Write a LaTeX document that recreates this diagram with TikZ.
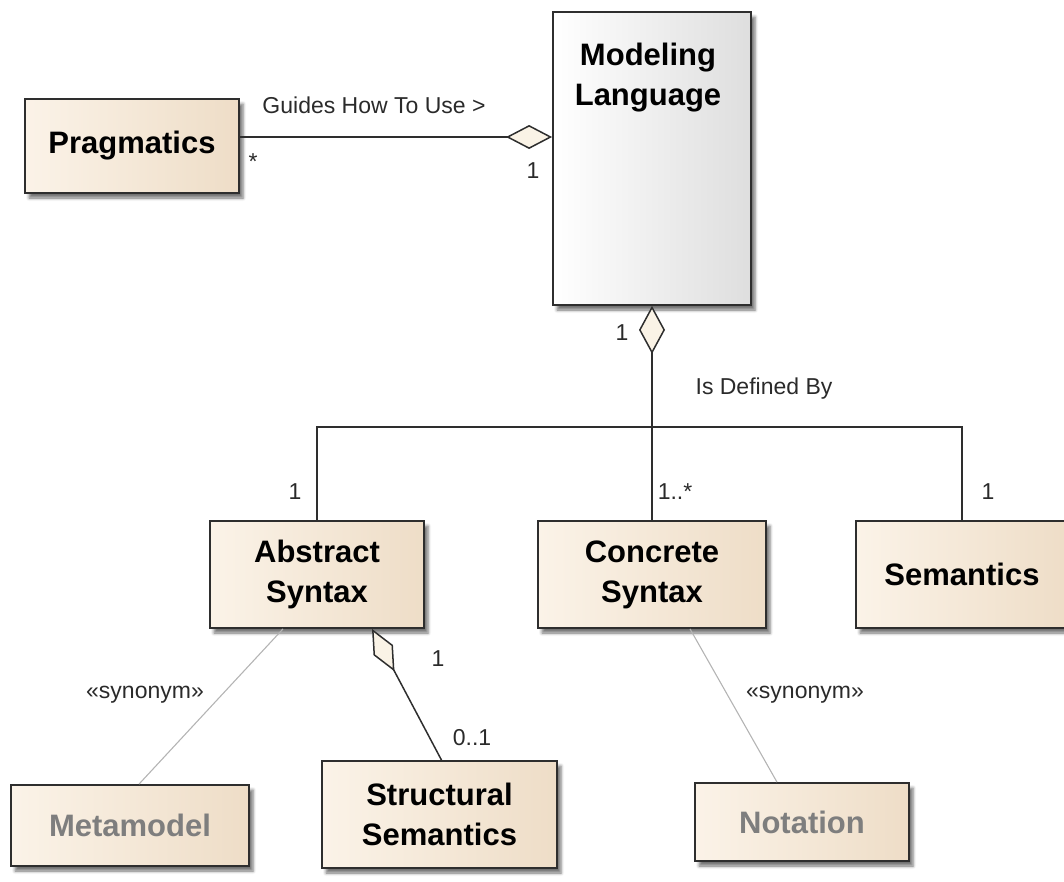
\documentclass[tikz,border=0pt]{standalone}
\usepackage{fontspec}
\setmainfont{Liberation Sans}
\usetikzlibrary{arrows.meta,shadows.blur}

\definecolor{boxL}{HTML}{FBF3E8}
\definecolor{boxR}{HTML}{EEDDC7}
\definecolor{langR}{HTML}{DEDEDE}
\definecolor{edge}{HTML}{2E2E2E}
\definecolor{diafill}{HTML}{FAF3E6}
\definecolor{faint}{HTML}{7E7E7E}
\definecolor{synline}{HTML}{B4B4B4}
\definecolor{roletext}{HTML}{2A2A2A}

\tikzset{
  classbox/.style={draw=edge, line width=1.8pt, left color=boxL, right color=boxR,
    inner sep=0pt, align=center,
    font=\fontsize{31}{40}\selectfont\bfseries,
    blur shadow={shadow xshift=4pt, shadow yshift=-5pt, shadow blur radius=3pt, shadow opacity=55}},
  langbox/.style={classbox, left color=white, right color=langR},
  ghostbox/.style={classbox, text=faint},
  role/.style={font=\fontsize{23}{28}\selectfont, inner sep=0pt, text=roletext},
  assoc/.style={draw=edge, line width=1.5pt},
  synonym/.style={draw=synline, line width=1.1pt},
  aggr/.style={{Diamond[length=46pt, width=24pt, fill=diafill, line width=1.5pt]}-}
}

\begin{document}
\begin{tikzpicture}[x=1pt, y=-1pt]
  \useasboundingbox (0,0) rectangle (1064,881);

  % classes
  \node[classbox, minimum width=214pt, minimum height=94pt] (prag) at (132,146) {Pragmatics};
  \node[langbox, minimum width=198pt, minimum height=293pt] (lang) at (652,158.5) {};
  \node[font=\fontsize{31}{40}\selectfont\bfseries, align=center, inner sep=0pt, anchor=north] (langtitle) at (648,43) {Modeling\\Language};
  \node[classbox, minimum width=214pt, minimum height=107pt] (abs) at (317,574.5) {Abstract\\Syntax};
  \node[classbox, minimum width=228pt, minimum height=107pt] (con) at (652,574.5) {Concrete\\Syntax};
  \node[classbox, minimum width=212pt, minimum height=107pt] (sem) at (962,574.5) {Semantics};
  \node[classbox, minimum width=235pt, minimum height=107pt] (struct) at (439.5,814.5) {Structural\\Semantics};
  \node[ghostbox, minimum width=238pt, minimum height=81pt] (meta) at (130,825.5) {Metamodel};
  \node[ghostbox, minimum width=214pt, minimum height=78pt] (nota) at (802,822) {Notation};

  % Pragmatics guides the modeling language
  \draw[assoc, aggr] ([yshift=9pt]prag.east -| lang.west) -- ([yshift=9pt]prag.east);
  \node[role] (guides) at (374,105) {Guides How To Use >};
  \node[role] (pragmult) at (253,162) {*};
  \node[role] (langmult) at (533,171) {1};

  % the language is defined by three parts
  \coordinate (hub) at (652,427);
  \draw[assoc, {Diamond[length=48pt, width=26pt, fill=diafill, line width=1.5pt]}-] (lang.south) -- (hub);
  \draw[assoc] (abs.north) |- (hub) -| (sem.north);
  \draw[assoc] (hub) -- (con.north);
  \node[role] (defmult) at (622,333) {1};
  \node[role] (defined) at (764,389) {Is Defined By};
  \node[role] (absmult) at (295,492) {1};
  \node[role] (conmult) at (675,492) {1..*};
  \node[role] (semmult) at (988,492) {1};

  % abstract syntax holds structural semantics
  \draw[assoc, {Diamond[length=48pt, width=22pt, fill=diafill, line width=1.5pt]}-] ([xshift=55pt]abs.south) -- ([xshift=2pt]struct.north);
  \node[role] (absone) at (438,659) {1};
  \node[role] (structmult) at (472,738) {0..1};

  % synonyms
  \draw[synonym] ([xshift=-34pt]abs.south) -- ([xshift=9pt]meta.north);
  \draw[synonym] ([xshift=38pt]con.south) -- ([xshift=-25pt]nota.north);
  \node[role] (synleft) at (145,695) {«synonym»};
  \node[role] (synright) at (805,695) {«synonym»};
\end{tikzpicture}
\end{document}
